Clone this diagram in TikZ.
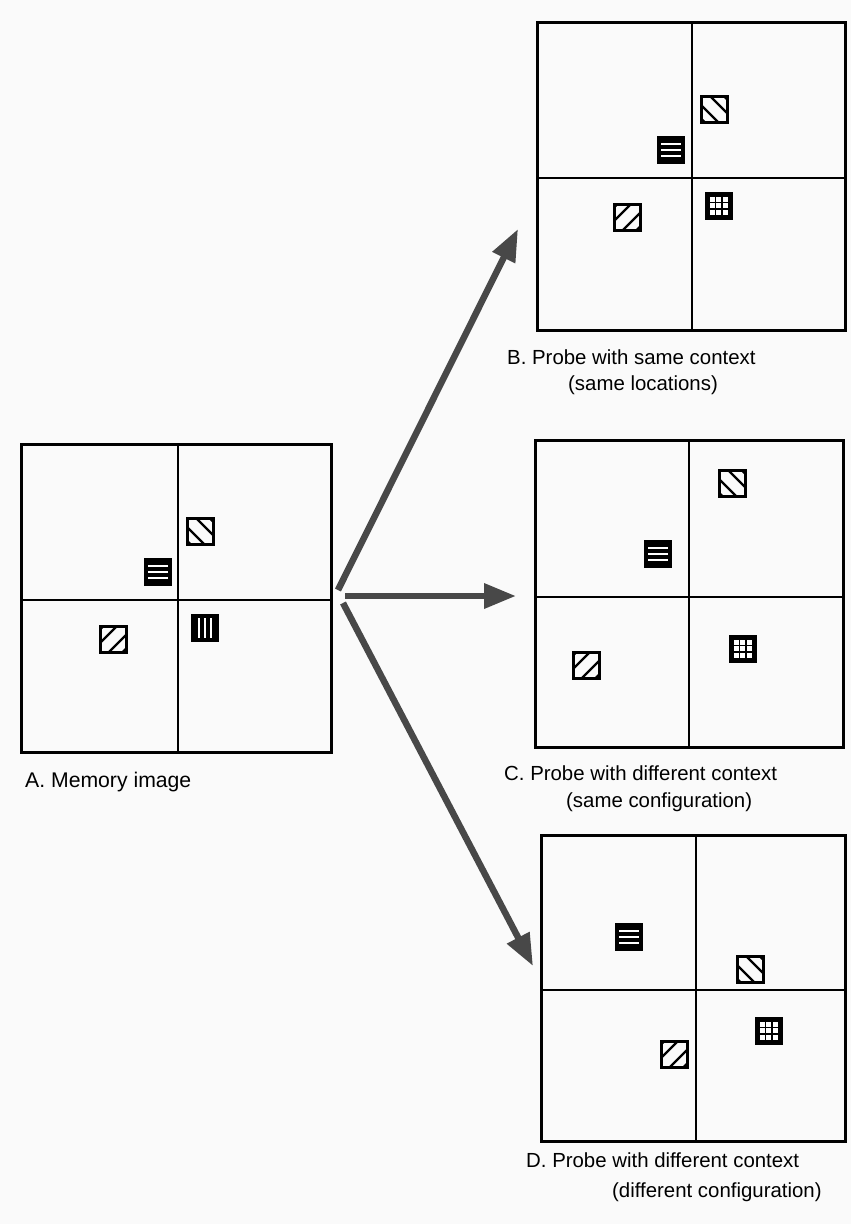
\documentclass[tikz,border=0pt]{standalone}
\usepackage{fontspec}
\setmainfont{Liberation Sans}
\usetikzlibrary{arrows.meta}
\definecolor{bg}{RGB}{250,250,250}
\definecolor{arrowgray}{RGB}{72,72,72}
\tikzset{
  panel/.style={draw=black, line width=3pt, inner sep=0pt, outer sep=0pt, anchor=north west},
  crossline/.style={draw=black, line width=2.6pt},
  lab/.style={font=\fontsize{20.4pt}{24pt}\selectfont, anchor=base west, inner sep=0pt},
  labA/.style={lab, font=\fontsize{21.2pt}{24pt}\selectfont},
  bigarrow/.style={arrowgray, line width=6.5pt, -{Triangle[length=32pt,width=24pt]}},
  pics/bsl/.style={code={
    \begin{scope}
      \clip (0,0) rectangle (26,26);
      \foreach \o in {-9,9} \draw[line width=2.3pt] (13+\o-20,-7) -- (13+\o+20,33);
      \fill (26,0) -- (21,0) -- (26,5) -- cycle;
      \fill (0,26) -- (5,26) -- (0,21) -- cycle;
    \end{scope}
    \draw[line width=3pt] (0,0) rectangle (26,26);
  }},
  pics/fsl/.style={code={
    \begin{scope}
      \clip (0,0) rectangle (26,26);
      \foreach \o in {-9,9} \draw[line width=2.3pt] (13+\o-20,33) -- (13+\o+20,-7);
      \fill (0,0) -- (5,0) -- (0,5) -- cycle;
      \fill (26,26) -- (21,26) -- (26,21) -- cycle;
    \end{scope}
    \draw[line width=3pt] (0,0) rectangle (26,26);
  }},
  pics/hstr/.style={code={
    \fill (-1,-1) rectangle (27,27);
    \foreach \yy in {7,13,19} \draw[white, line width=2pt] (3,\yy) -- (23,\yy);
  }},
  pics/vstr/.style={code={
    \fill (-1,-1) rectangle (27,27);
    \foreach \xx in {7,13,19} \draw[white, line width=2pt] (\xx,3) -- (\xx,23);
  }},
  pics/grd/.style={code={
    \fill (-1,-1) rectangle (27,27);
    \foreach \i in {0,1,2} \foreach \j in {0,1,2}
      \fill[white] (3.5+\i*6.8,3.5+\j*6.8) rectangle ++(5,5);
  }},
}
\begin{document}
\begin{tikzpicture}[x=1pt,y=-1pt]
\fill[bg] (0,0) rectangle (851,1224);
\useasboundingbox (0,0) rectangle (851,1224);

% Panel A
\node[panel, minimum width=310pt, minimum height=308pt] (A) at (21,444) {};
\draw[crossline] (178,444) -- (178,752);
\draw[crossline] (21,600) -- (331,600);
\pic at (187,518) {bsl};
\pic at (145,559) {hstr};
\pic at (100,626) {fsl};
\pic at (192,615) {vstr};
\node[labA] (la) at (25,787) {A. Memory image};

% Panel B
\node[panel, minimum width=308pt, minimum height=308pt] (B) at (537,22) {};
\draw[crossline] (692,22) -- (692,330);
\draw[crossline] (537,178) -- (845,178);
\pic at (701,96) {bsl};
\pic at (658,137) {hstr};
\pic at (614,204) {fsl};
\pic at (706,193) {grd};
\node[lab] (lb1) at (507,364) {B. Probe with same context};
\node[lab] (lb2) at (568,390) {(same locations)};

% Panel C
\node[panel, minimum width=308pt, minimum height=307pt] (C) at (535,440) {};
\draw[crossline] (689,440) -- (689,747);
\draw[crossline] (535,597) -- (843,597);
\pic at (719,470) {bsl};
\pic at (645,541) {hstr};
\pic at (573,652) {fsl};
\pic at (730,636) {grd};
\node[lab] (lc1) at (504,780) {C. Probe with different context};
\node[lab] (lc2) at (566,807) {(same configuration)};

% Panel D
\node[panel, minimum width=304pt, minimum height=306pt] (D) at (541,835) {};
\draw[crossline] (696,835) -- (696,1141);
\draw[crossline] (541,990) -- (845,990);
\pic at (616,924) {hstr};
\pic at (737,956) {bsl};
\pic at (661,1041) {fsl};
\pic at (756,1018) {grd};
\node[lab] (ld1) at (526,1167) {D. Probe with different context};
\node[lab] (ld2) at (612,1197) {(different configuration)};

% Arrows
\coordinate (sB) at (338,590);
\coordinate (tB) at (518,229);
\coordinate (sC) at (345,596);
\coordinate (tC) at (516,596);
\coordinate (sD) at (343,603);
\coordinate (tD) at (533,966);
\draw[bigarrow] (sB) -- (tB);
\draw[bigarrow] (sC) -- (tC);
\draw[bigarrow] (sD) -- (tD);
\end{tikzpicture}
\end{document}
